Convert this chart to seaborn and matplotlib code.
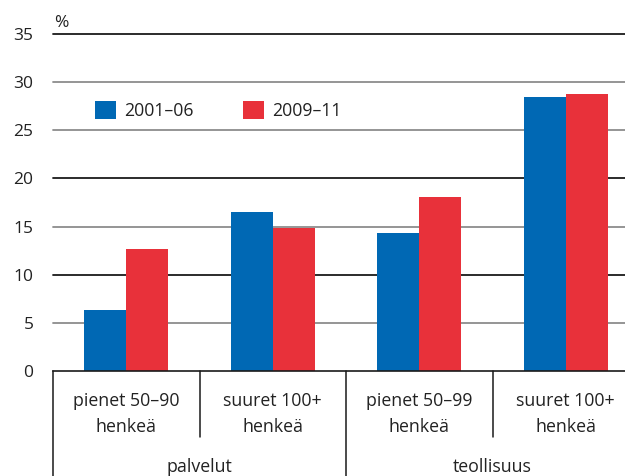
import numpy as np
import pandas as pd
import matplotlib
matplotlib.use("Agg")
import matplotlib.pyplot as plt
import matplotlib.transforms as mtransforms
import seaborn as sns

# data
kategoriat = ["pienet 50–90\nhenkeä", "suuret 100+\nhenkeä", "pienet 50–99\nhenkeä", "suuret 100+\nhenkeä"]
kaudet = ["2001–06", "2009–11"]
arvot_2001_06 = [6.3, 16.5, 14.3, 28.5]
arvot_2009_11 = [12.7, 14.8, 18.1, 28.8]
ryhmat = ["palvelut", "teollisuus"]
y_ticks = [0, 5, 10, 15, 20, 25, 30, 35]

varit = ["#0068b4", "#e8313a"]
tekstivari = "#222222"

sns.set_style("white")
plt.rcParams['font.family'] = ['Open Sans', 'DejaVu Sans']

# unique keys so that the two "suuret 100+" categories stay separate
avaimet = [f"k{i}" for i in range(len(kategoriat))]
df = pd.DataFrame({
    "kategoria": avaimet * 2,
    "kausi": [kaudet[0]] * 4 + [kaudet[1]] * 4,
    "arvo": arvot_2001_06 + arvot_2009_11,
})

fig = plt.figure(figsize=(6.25, 4.76), dpi=100)
ax = fig.add_axes([53 / 625, 1 - 371 / 476, 4 * 146.5 / 625, 337 / 476])

sns.barplot(data=df, x="kategoria", y="arvo", hue="kausi", order=avaimet,
            hue_order=kaudet, palette=varit, width=0.574, gap=0,
            saturation=1, linewidth=0, ax=ax, legend=True)

ax.set_ylim(0, 35)
ax.set_xlim(-0.5, 3.5)
ax.set_yticks(y_ticks)
ax.set_yticklabels([str(t) for t in y_ticks], fontsize=12.5, color=tekstivari)
ax.tick_params(axis="y", length=0, pad=14)
ax.set_xticks(range(len(kategoriat)))
ax.set_xticklabels(kategoriat, fontsize=12.8, color=tekstivari, linespacing=1.6)
ax.tick_params(axis="x", length=0, pad=15)
ax.set_xlabel("")
ax.set_ylabel("")

# gridlines (some dark, some grey as in the original)
for t in y_ticks[1:]:
    c = "#1a1a1a" if t in (10, 20, 35) else "#8c8c8c"
    ax.axhline(t, color=c, lw=1.3, zorder=0, clip_on=False)

for s in ["left", "right", "top"]:
    ax.spines[s].set_visible(False)
ax.spines["bottom"].set_color("#1a1a1a")
ax.spines["bottom"].set_linewidth(1.2)

# separators below the axis
trans = mtransforms.blended_transform_factory(ax.transData, ax.transAxes)
for x, alas in [(-0.5, -0.32), (0.5, -0.195), (1.5, -0.32), (2.5, -0.195)]:
    ax.plot([x, x], [0, alas], color="#1a1a1a", lw=1.1, transform=trans, clip_on=False)

for i, nimi in enumerate(ryhmat):
    ax.text(2 * i + 0.5, -0.285, nimi, transform=trans, ha="center", va="center",
            fontsize=12.8, color=tekstivari)

ax.text(0.002, 1.021, "%", transform=ax.transAxes, fontsize=12.5, color=tekstivari,
        ha="left", va="baseline")

leg = ax.legend(loc="upper left", bbox_to_anchor=(0.06, 0.823), ncol=2, frameon=False,
                fontsize=12.7, handlelength=1.2, handleheight=1.2, handletextpad=0.45,
                columnspacing=2.8, borderaxespad=0)
for txt in leg.get_texts():
    txt.set_color(tekstivari)

fig.savefig("out.png", dpi=100)
